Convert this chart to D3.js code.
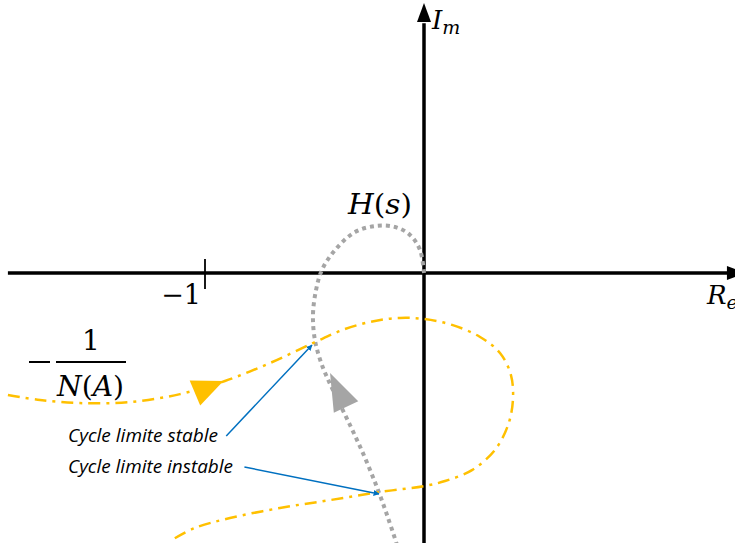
<!DOCTYPE html>
<html>
<head>
<meta charset="utf-8">
<script src="https://cdn.jsdelivr.net/npm/d3@7"></script>
<style>
body{margin:0;background:#fff;}
svg{display:block;}
.math{font-family:"DejaVu Serif","Liberation Serif",serif;fill:#000;}
.note{font-family:"Open Sans","Noto Sans",sans-serif;font-style:italic;fill:#000;}
</style>
</head>
<body>
<svg id="chart" width="735" height="543"></svg>
<script>
// H(s) locus (gray dotted), in plane units (-1 is the tick)
var hsX=[0,-0.018,-0.064,-0.132,-0.219,-0.315,-0.406,-0.466,-0.493,-0.507,-0.498,-0.466,-0.416,-0.338,-0.269,-0.210,-0.164,-0.123];
var hsY=[0,0.105,0.174,0.210,0.215,0.187,0.105,0.014,-0.078,-0.192,-0.306,-0.420,-0.534,-0.694,-0.845,-0.991,-1.119,-1.242];

// -1/N(A) locus (yellow dash-dot)
var naX=[-1.900,-1.753,-1.571,-1.342,-1.114,-0.909,-0.703,-0.507,-0.361,-0.224,-0.110,0,0.128,0.256,0.347,0.397,0.406,0.384,0.324,0.219,0.096,0,-0.201,-0.429,-0.658,-0.886,-1.046,-1.151];
var naY=[-0.557,-0.580,-0.594,-0.589,-0.553,-0.493,-0.411,-0.320,-0.256,-0.219,-0.205,-0.210,-0.237,-0.292,-0.365,-0.466,-0.580,-0.694,-0.808,-0.900,-0.950,-0.973,-1.000,-1.037,-1.073,-1.119,-1.164,-1.219];

// direction arrows: tip and base centre
var arrowTip=[[-0.916,-0.493],[-0.429,-0.457]];
var arrowBase=[[-1.046,-0.548],[-0.356,-0.612]];

// limit cycles: label and intersection point
var cycleLabel=["Cycle limite stable","Cycle limite instable"];
var cyclePoint=[[-0.507,-0.320],[-0.201,-1.000]];
var cycleFrom=[[-0.903,-0.744],[-0.820,-0.886]];

var tickVal=[-1];
var tickLab=["\u22121"];

var svg=d3.select("#chart");
var x=d3.scaleLinear().domain([-1,0]).range([205,424]);
var y=d3.scaleLinear().domain([0,1]).range([273,54]);

var defs=svg.append("defs");
defs.append("marker").attr("id","blue").attr("viewBox","0 0 10 10")
  .attr("refX",9).attr("refY",5).attr("markerWidth",6).attr("markerHeight",6)
  .attr("orient","auto").attr("markerUnits","userSpaceOnUse")
  .append("path").attr("d","M0,0L10,5L0,10z").attr("fill","#0070C0");

// axes
svg.append("line").attr("x1",x(-1.9)).attr("x2",x(1.43)).attr("y1",y(0)).attr("y2",y(0))
  .attr("stroke","#000").attr("stroke-width",3.5);
svg.append("line").attr("x1",x(0)).attr("x2",x(0)).attr("y1",y(-1.25)).attr("y2",y(1.14))
  .attr("stroke","#000").attr("stroke-width",3.5);
svg.append("path").attr("d","M"+x(0)+","+y(1.233)+"l-7,19l14,0z").attr("fill","#000");
svg.append("path").attr("d","M"+x(1.47)+","+y(0)+"l-19,-7l0,14z").attr("fill","#000");

svg.selectAll(".tick").data(tickVal).enter().append("line")
  .attr("x1",d=>x(d)).attr("x2",d=>x(d)).attr("y1",y(0.064)).attr("y2",y(-0.073))
  .attr("stroke","#000").attr("stroke-width",1.8);
svg.selectAll(".ticklab").data(tickVal).enter().append("text").attr("class","math")
  .attr("x",d=>x(d)-4).attr("y",y(-0.14)).attr("text-anchor","end").attr("font-size",27)
  .text((d,i)=>tickLab[i]);

var line=d3.line().x(d=>x(d[0])).y(d=>y(d[1])).curve(d3.curveCatmullRom.alpha(0.5));

svg.append("path").datum(hsX.map((v,i)=>[v,hsY[i]])).attr("d",line)
  .attr("fill","none").attr("stroke","#A5A5A5").attr("stroke-width",4).attr("stroke-dasharray","4,4");

svg.append("path").datum(naX.map((v,i)=>[v,naY[i]])).attr("d",line)
  .attr("fill","none").attr("stroke","#FFC000").attr("stroke-width",2.5).attr("stroke-dasharray","12,6,3,6");

var arrowCol=["#FFC000","#A5A5A5"];
svg.selectAll(".dir").data(arrowTip).enter().append("path")
  .attr("d",function(d,i){
    var tx=x(d[0]),ty=y(d[1]),bx=x(arrowBase[i][0]),by=y(arrowBase[i][1]);
    var dx=tx-bx,dy=ty-by,l=Math.sqrt(dx*dx+dy*dy),h=13.5;
    var nx=-dy/l*h,ny=dx/l*h;
    return "M"+tx+","+ty+"L"+(bx+nx)+","+(by+ny)+"L"+(bx-nx)+","+(by-ny)+"Z";
  })
  .attr("fill",(d,i)=>arrowCol[i]);

// annotations
svg.selectAll(".ann").data(cyclePoint).enter().append("line")
  .attr("x1",(d,i)=>x(cycleFrom[i][0])).attr("y1",(d,i)=>y(cycleFrom[i][1]))
  .attr("x2",d=>x(d[0])-1).attr("y2",d=>y(d[1])+2)
  .attr("stroke","#0070C0").attr("stroke-width",1.5).attr("marker-end","url(#blue)");
svg.selectAll(".annlab").data(cycleLabel).enter().append("text").attr("class","note")
  .attr("x",68).attr("y",(d,i)=>y(cycleFrom[i][1])+6)
  .attr("font-size",18).attr("textLength",(d,i)=>i?165:150).attr("lengthAdjust","spacingAndGlyphs")
  .text(d=>d);

// labels
var im=svg.append("text").attr("class","math").attr("x",432).attr("y",29).attr("font-size",26);
im.append("tspan").attr("font-style","italic").text("I");
im.append("tspan").attr("font-style","italic").attr("font-size",19).attr("dy",5).text("m");
var re=svg.append("text").attr("class","math").attr("x",707).attr("y",304).attr("font-size",26);
re.append("tspan").attr("font-style","italic").text("R");
re.append("tspan").attr("font-style","italic").attr("font-size",19).attr("dy",5).text("e");

var hs=svg.append("text").attr("class","math").attr("x",348).attr("y",214).attr("font-size",28)
  .attr("textLength",64).attr("lengthAdjust","spacingAndGlyphs");
hs.append("tspan").attr("font-style","italic").text("H");
hs.append("tspan").text("(");
hs.append("tspan").attr("font-style","italic").text("s");
hs.append("tspan").text(")");

svg.append("line").attr("x1",29).attr("x2",50).attr("y1",362).attr("y2",362).attr("stroke","#000").attr("stroke-width",2);
svg.append("line").attr("x1",56).attr("x2",126).attr("y1",362).attr("y2",362).attr("stroke","#000").attr("stroke-width",2);
svg.append("text").attr("class","math").attr("x",91).attr("y",350).attr("text-anchor","middle").attr("font-size",28).text("1");
var na=svg.append("text").attr("class","math").attr("x",57).attr("y",396).attr("font-size",28)
  .attr("textLength",67).attr("lengthAdjust","spacingAndGlyphs");
na.append("tspan").attr("font-style","italic").text("N");
na.append("tspan").text("(");
na.append("tspan").attr("font-style","italic").text("A");
na.append("tspan").text(")");
</script>
</body>
</html>
